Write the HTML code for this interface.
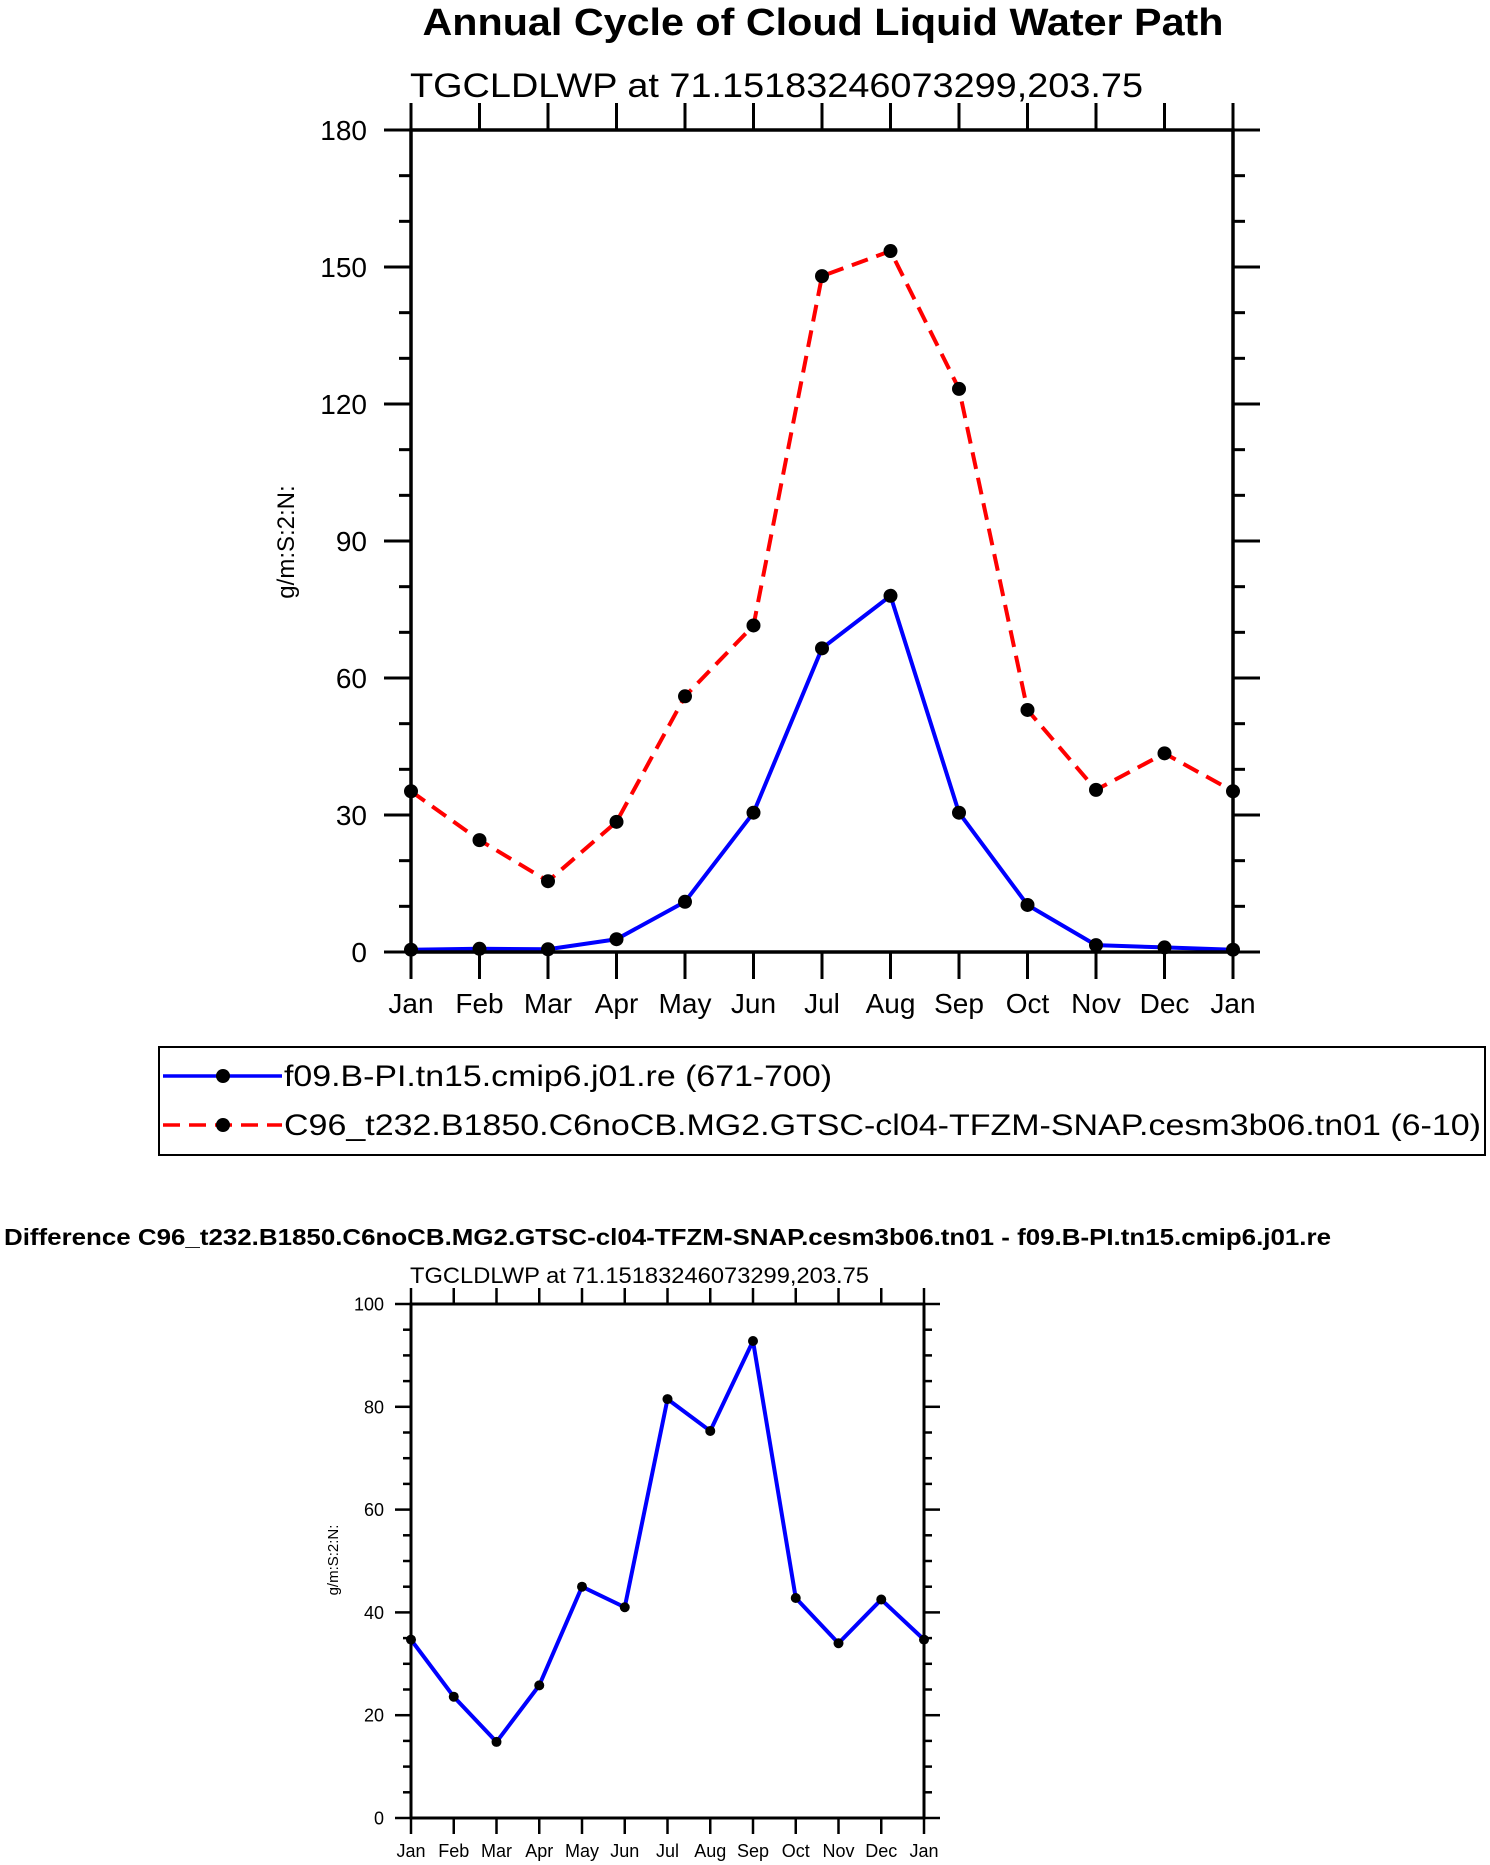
<!DOCTYPE html>
<html><head><meta charset="utf-8"><style>
html,body{margin:0;padding:0;background:#fff;}
svg{display:block;font-family:"Liberation Sans",Arial,sans-serif;}
</style></head><body>
<svg id="svg" width="1490" height="1865" viewBox="0 0 1490 1865" xmlns="http://www.w3.org/2000/svg">
<text x="823" y="35" font-size="38" font-weight="bold" text-anchor="middle" textLength="801" lengthAdjust="spacingAndGlyphs">Annual Cycle of Cloud Liquid Water Path</text>
<text x="410" y="97" font-size="34" textLength="733" lengthAdjust="spacingAndGlyphs">TGCLDLWP at 71.15183246073299,203.75</text>
<text x="0" y="0" font-size="24" text-anchor="middle" transform="translate(294,542) rotate(-90)">g/m:S:2:N:</text>
<g id="top"></g>
<g>
<rect x="159" y="1047" width="1326" height="108" fill="none" stroke="#000" stroke-width="2"/>
<g>
<line x1="163" y1="1076" x2="282" y2="1076" stroke="#0000ff" stroke-width="3.5"/>
<circle cx="223" cy="1076" r="7" fill="#000"/>
<text x="284" y="1086" font-size="30" textLength="548" lengthAdjust="spacingAndGlyphs">f09.B-PI.tn15.cmip6.j01.re (671-700)</text>
</g>
<g>
<line x1="163" y1="1125" x2="282" y2="1125" stroke="#ff0000" stroke-width="3.5" stroke-dasharray="17,9"/>
<circle cx="223" cy="1125" r="7" fill="#000"/>
<text x="284" y="1135" font-size="30" textLength="1197" lengthAdjust="spacingAndGlyphs">C96_t232.B1850.C6noCB.MG2.GTSC-cl04-TFZM-SNAP.cesm3b06.tn01 (6-10)</text>
</g>
</g>
<text x="4" y="1245" font-size="23" font-weight="bold" textLength="1327" lengthAdjust="spacingAndGlyphs">Difference C96_t232.B1850.C6noCB.MG2.GTSC-cl04-TFZM-SNAP.cesm3b06.tn01 - f09.B-PI.tn15.cmip6.j01.re</text>
<text x="410" y="1283" font-size="22" textLength="459" lengthAdjust="spacingAndGlyphs">TGCLDLWP at 71.15183246073299,203.75</text>
<text x="0" y="0" font-size="15" text-anchor="middle" transform="translate(338,1560) rotate(-90)">g/m:S:2:N:</text>
<g id="bot"></g>
</svg>
<script>
const months = ["Jan","Feb","Mar","Apr","May","Jun","Jul","Aug","Sep","Oct","Nov","Dec","Jan"];
const controlValues = [0.5,0.7,0.6,2.8,11,30.5,66.5,78,30.5,10.3,1.5,1.0,0.5];
const testValues = [35.2,24.5,15.5,28.5,56,71.5,148,153.5,123.3,53,35.5,43.5,35.2];
const diffValues = [34.7,23.6,14.8,25.8,45,41,81.5,75.3,92.8,42.8,34,42.5,34.7];
const topYTicks = [0,30,60,90,120,150,180];
const diffYTicks = [0,20,40,60,80,100];

const NS="http://www.w3.org/2000/svg";
function mk(parent,tag,attrs){const e=document.createElementNS(NS,tag);for(const k in attrs)e.setAttribute(k,attrs[k]);parent.appendChild(e);return e;}

function plot(g,cfg){
  const {L,R,T,B,ymax,yticks,minor,fs,lblOff,xlblY,majLen,minLen,lw,mr}=cfg;
  const xs=i=>L+(R-L)*i/(months.length-1);
  const ys=v=>B-(B-T)*v/ymax;
  cfg.series.forEach(s=>{
    const pts=s.values.map((v,i)=>xs(i)+","+ys(v)).join(" ");
    const pl=mk(g,"polyline",{points:pts,fill:"none",stroke:s.color,"stroke-width":lw,"stroke-linejoin":"round"});
    if(s.dash)pl.setAttribute("stroke-dasharray",s.dash);
    
    
    s.values.forEach((v,i)=>{
      const c=mk(g,"circle",{cx:xs(i),cy:ys(v),r:mr,fill:"#000"});
      
      
    });
  });
  const fr=mk(g,"rect",{x:L,y:T,width:R-L,height:B-T,fill:"none",stroke:"#000","stroke-width":cfg.fw});
  
  
  months.forEach((m,i)=>{
    const x=xs(i);
    mk(g,"line",{x1:x,y1:B,x2:x,y2:B+majLen,stroke:"#000","stroke-width":cfg.tw});
    mk(g,"line",{x1:x,y1:T,x2:x,y2:T-majLen,stroke:"#000","stroke-width":cfg.tw});
    const t=mk(g,"text",{x:x,y:xlblY,"font-size":fs,"text-anchor":"middle"});
    t.textContent=m;
    
    
  });
  for(let v=0;v<=ymax+1e-9;v+=minor){
    const y=ys(v);const major=yticks.includes(v);const len=major?majLen:minLen;
    mk(g,"line",{x1:L-len,y1:y,x2:L,y2:y,stroke:"#000","stroke-width":cfg.tw});
    mk(g,"line",{x1:R,y1:y,x2:R+len,y2:y,stroke:"#000","stroke-width":cfg.tw});
  }
  yticks.forEach(v=>{
    const t=mk(g,"text",{x:L-lblOff,y:ys(v)+fs*0.36,"font-size":fs,"text-anchor":"end"});
    t.textContent=v;
    
    
  });
}

plot(document.getElementById("top"),{L:411,R:1233,T:130,B:952,ymax:180,yticks:topYTicks,minor:10,fs:28,lblOff:44,xlblY:1013,majLen:27,minLen:12,lw:4,mr:7,fw:3.5,tw:3,
  series:[{name:"control",values:controlValues,color:"#0000ff"},{name:"test",values:testValues,color:"#ff0000",dash:"17,9"}]});
plot(document.getElementById("bot"),{L:411,R:924,T:1304,B:1818,ymax:100,yticks:diffYTicks,minor:5,fs:18,lblOff:27,xlblY:1857,majLen:16,minLen:8,lw:4,mr:5,fw:3,tw:2.5,
  series:[{name:"difference",values:diffValues,color:"#0000ff"}]});
</script>
</body></html>
